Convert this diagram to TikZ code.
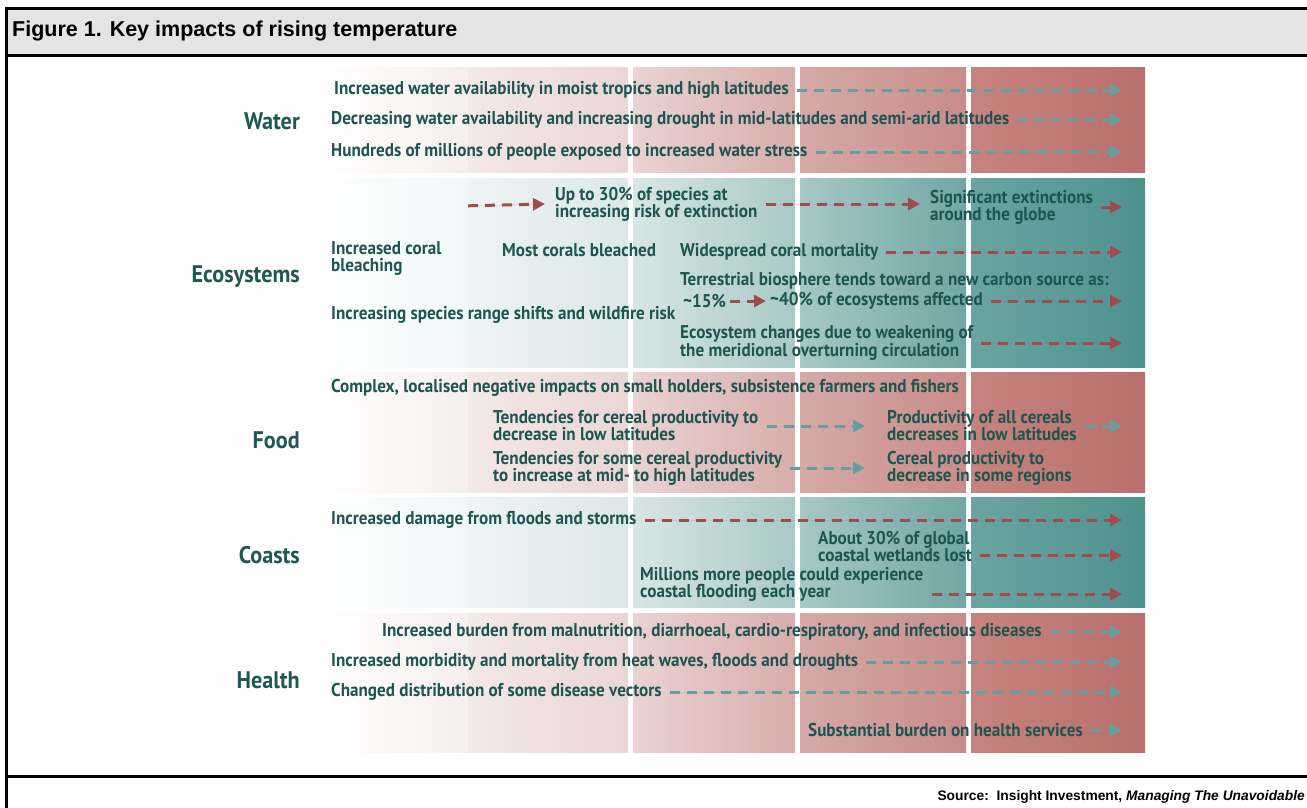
\documentclass[tikz,border=0pt]{standalone}
\usepackage{fontspec}
\usetikzlibrary{arrows.meta,calc}
\newfontfamily\bodyfam[FakeStretch=0.925]{PT Sans}
\newfontfamily\hdrfam{Liberation Sans}
\newcommand\bodyfont{\bodyfam\bfseries\fontsize{18.5}{17}\selectfont}
\newcommand\labelfont{\bodyfam\bfseries\fontsize{24}{24}\selectfont}
\definecolor{txtc}{RGB}{29,86,81}
\definecolor{lblc}{RGB}{31,88,83}
\definecolor{tarc}{RGB}{98,161,159}
\definecolor{rarc}{RGB}{162,74,76}
\definecolor{hdrgray}{RGB}{228,228,228}
% pink shades
\definecolor{pink0a}{RGB}{255,255,255}\definecolor{pink0b}{RGB}{247,238,238}
\definecolor{pink1a}{RGB}{244,232,232}\definecolor{pink1b}{RGB}{235,214,214}
\definecolor{pink2a}{RGB}{234,211,210}\definecolor{pink2b}{RGB}{216,173,171}
\definecolor{pink3a}{RGB}{214,169,167}\definecolor{pink3b}{RGB}{200,140,137}
\definecolor{pink4a}{RGB}{199,131,127}\definecolor{pink4b}{RGB}{185,111,107}
% teal shades
\definecolor{teal0a}{RGB}{255,255,255}\definecolor{teal0b}{RGB}{241,246,246}
\definecolor{teal1a}{RGB}{238,244,244}\definecolor{teal1b}{RGB}{219,232,231}
\definecolor{teal2a}{RGB}{216,230,229}\definecolor{teal2b}{RGB}{168,201,199}
\definecolor{teal3a}{RGB}{166,200,198}\definecolor{teal3b}{RGB}{112,167,164}
\definecolor{teal4a}{RGB}{107,164,161}\definecolor{teal4b}{RGB}{77,146,143}
\newcommand\myband[3]{%
  \shade[left color=#30a,right color=#30b] (320,#1) rectangle (468,#2);
  \shade[left color=#31a,right color=#31b] (468,#1) rectangle (628,#2);
  \shade[left color=#32a,right color=#32b] (633,#1) rectangle (795,#2);
  \shade[left color=#33a,right color=#33b] (800,#1) rectangle (966,#2);
  \shade[left color=#34a,right color=#34b] (971,#1) rectangle (1145,#2);
}
\tikzset{
  txt/.style={font=\bodyfont,text=txtc,inner sep=0pt,anchor=west,align=left},
  lbl/.style={font=\labelfont,text=lblc,inner sep=0pt,anchor=east},
  tarr/.style={draw=tarc,fill=tarc,line width=3pt,dash pattern=on 10pt off 7pt,
    -{Triangle[length=12pt,width=12pt]},shorten <=8pt},
  rarr/.style={draw=rarc,fill=rarc,line width=3pt,dash pattern=on 10pt off 7pt,
    -{Triangle[length=12pt,width=12pt]},shorten <=8pt},
}
\begin{document}
\begin{tikzpicture}[x=1pt,y=-1pt]
\useasboundingbox (0,0) rectangle (1307,807);
% frame
\fill[hdrgray] (6.5,8) rectangle (1310,55);
\draw[line width=3pt] (1310,8) -- (6.5,8) -- (6.5,810);
\draw[line width=3pt] (6.5,55) -- (1310,55);
\draw[line width=3pt] (6.5,776.5) -- (1310,776.5);
\node[font=\hdrfam\bfseries\fontsize{21.5}{21.5}\selectfont,anchor=west,inner sep=0pt] (title) at (12,31) {Figure 1. Key impacts of rising temperature};
\node[font=\hdrfam\bfseries\fontsize{13.8}{13.8}\selectfont,anchor=east,inner sep=0pt] (src) at (1305,797) {Source:\ \ Insight Investment, \textit{Managing The Unavoidable}};
% bands
\myband{67}{172}{pink}
\myband{178}{367}{teal}
\myband{372}{492}{pink}
\myband{497}{607}{teal}
\myband{613}{752}{pink}
\coordinate (xr) at (1122,0);
% Water
\node[lbl] (lw) at (300,121) {Water};
\node[txt] (w1) at (334,90) {Increased water availability in moist tropics and high latitudes};
\node[txt] (w2) at (331,120) {Decreasing water availability and increasing drought in mid-latitudes and semi-arid latitudes};
\node[txt] (w3) at (331,152) {Hundreds of millions of people exposed to increased water stress};
\draw[tarr] (w1.east) -- (w1.east -| xr);
\draw[tarr] (w2.east) -- (w2.east -| xr);
\draw[tarr] (w3.east) -- (w3.east -| xr);
% Ecosystems
\node[lbl] (le) at (300,277) {Ecosystems};
\coordinate (e0s) at (460,206);
\node[txt] (e1) at (555,204) {Up to 30\% of species at\\increasing risk of extinction};
\node[txt] (e2) at (930,207) {Significant extinctions\\around the globe};
\draw[rarr] (e0s) -- ([xshift=-10pt]e1.west);
\draw[rarr,shorten >=10pt] (e1.east) -- (e1.east -| e2.west);
\draw[rarr] (e2.east) -- (e2.east -| xr);
\node[txt] (e3) at (331,258) {Increased coral\\bleaching};
\node[txt] (e4) at (502,250) {Most corals bleached};
\node[txt] (e5) at (680,252) {Widespread coral mortality};
\draw[rarr] (e5.east) -- (e5.east -| xr);
\node[txt] (e6) at (680,281) {Terrestrial biosphere tends toward a new carbon source as:};
\node[txt] (e7) at (683,301) {\textasciitilde15\%};
\node[txt] (e8) at (770,301) {\textasciitilde40\% of ecosystems affected};
\draw[rarr,shorten <=4pt,shorten >=4pt] (e7.east) -- (e8.west);
\draw[rarr] (e8.east) -- (e8.east -| xr);
\node[txt] (e9) at (331,315) {Increasing species range shifts and wildfire risk};
\node[txt] (e10) at (680,343) {Ecosystem changes due to weakening of\\the meridional overturning circulation};
\draw[rarr] (e10.east) -- (e10.east -| xr);
% Food
\node[lbl] (lf) at (300,440) {Food};
\node[txt] (f1) at (331,388) {Complex, localised negative impacts on small holders, subsistence farmers and fishers};
\node[txt] (f2) at (493,426) {Tendencies for cereal productivity to\\decrease in low latitudes};
\node[txt] (f3) at (887,426) {Productivity of all cereals\\decreases in low latitudes};
\draw[tarr,shorten >=22pt] (f2.east) -- (f2.east -| f3.west);
\draw[tarr] (f3.east) -- (f3.east -| xr);
\node[txt] (f4) at (493,468) {Tendencies for some cereal productivity\\to increase at mid- to high latitudes};
\node[txt] (f5) at (887,468) {Cereal productivity to\\decrease in some regions};
\draw[tarr,shorten >=22pt] (f4.east) -- (f4.east -| f5.west);
% Coasts
\node[lbl] (lc) at (300,555) {Coasts};
\node[txt] (c1) at (331,520) {Increased damage from floods and storms};
\draw[rarr] (c1.east) -- (c1.east -| xr);
\node[txt] (c2) at (818,547) {About 30\% of global\\coastal wetlands lost};
\path ([yshift=7pt]c2.south east) coordinate (c2s);
\draw[rarr] (c2s) -- (c2s -| xr);
\node[txt] (c3) at (640,584) {Millions more people could experience\\coastal flooding each year};
\path ([yshift=7pt]c3.south east) coordinate (c3s);
\draw[rarr] (c3s) -- (c3s -| xr);
% Health
\node[lbl] (lh) at (300,680) {Health};
\node[txt] (h1) at (382,632) {Increased burden from malnutrition, diarrhoeal, cardio-respiratory, and infectious diseases};
\node[txt] (h2) at (331,662) {Increased morbidity and mortality from heat waves, floods and droughts};
\node[txt] (h3) at (331,692) {Changed distribution of some disease vectors};
\node[txt] (h4) at (808,730) {Substantial burden on health services};
\draw[tarr] (h1.east) -- (h1.east -| xr);
\draw[tarr] (h2.east) -- (h2.east -| xr);
\draw[tarr] (h3.east) -- (h3.east -| xr);
\draw[tarr] (h4.east) -- (h4.east -| xr);
\end{tikzpicture}
\end{document}
